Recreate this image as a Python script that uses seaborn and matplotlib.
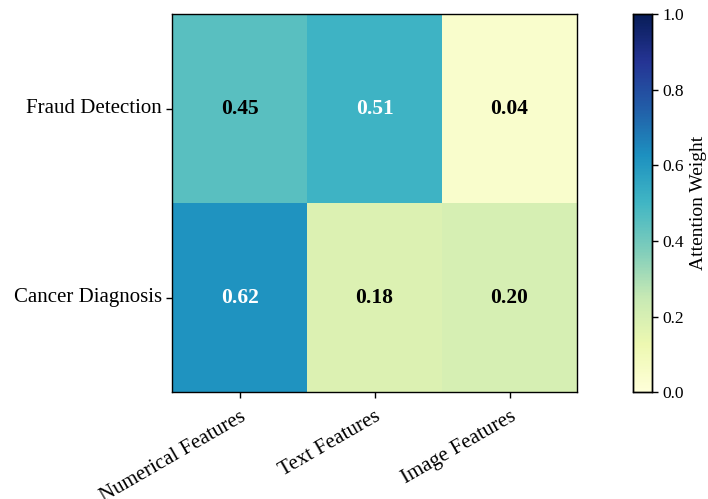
import numpy as np
import pandas as pd
import matplotlib
matplotlib.use("Agg")
import matplotlib.pyplot as plt
import seaborn as sns

# Data
tasks = ["Fraud Detection", "Cancer Diagnosis"]
features = ["Numerical Features", "Text Features", "Image Features"]
fraud_weights = [0.45, 0.51, 0.04]
cancer_weights = [0.62, 0.18, 0.20]

df = pd.DataFrame([fraud_weights, cancer_weights], index=tasks, columns=features)

sns.set_style("white")
plt.rcParams['font.family'] = ['Liberation Serif', 'DejaVu Serif']
plt.rcParams['text.color'] = 'black'
plt.rcParams['xtick.color'] = 'black'
plt.rcParams['ytick.color'] = 'black'
plt.rcParams['axes.labelcolor'] = 'black'

fig = plt.figure(figsize=(7.08, 4.99), dpi=100)
ax = fig.add_axes([0.243, 0.214, 0.572, 0.758])
cax = fig.add_axes([0.894, 0.214, 0.027, 0.758])

sns.heatmap(df, ax=ax, cbar_ax=cax, cmap="YlGnBu", vmin=0, vmax=1,
            annot=False, cbar_kws={'label': 'Attention Weight'})

# Annotations: white text on darker cells
for i, task in enumerate(tasks):
    for j, feat in enumerate(features):
        val = df.loc[task, feat]
        color = 'white' if val > 0.5 else 'black'
        ax.text(j + 0.5, i + 0.5, f"{val:.2f}", ha='center', va='center',
                fontsize=15.5, fontweight='bold', color=color)

ax.set_xticklabels(features, rotation=30, ha='right', rotation_mode='anchor', fontsize=15)
ax.set_yticklabels(tasks, rotation=0, fontsize=15)
ax.tick_params(axis='both', length=4, width=1, color='black', bottom=True, left=True)
ax.tick_params(axis='x', pad=7)
for spine in ax.spines.values():
    spine.set_visible(True)
    spine.set_color('black')
    spine.set_linewidth(1)

cax.tick_params(labelsize=12.5, length=4, width=1, color='black', right=True)
cax.set_ylabel('Attention Weight', fontsize=14)
cax.set_yticks([0, 0.2, 0.4, 0.6, 0.8, 1.0])
for spine in cax.spines.values():
    spine.set_visible(True)
    spine.set_color('black')
    spine.set_linewidth(1)

fig.savefig("out.png", dpi=100)
